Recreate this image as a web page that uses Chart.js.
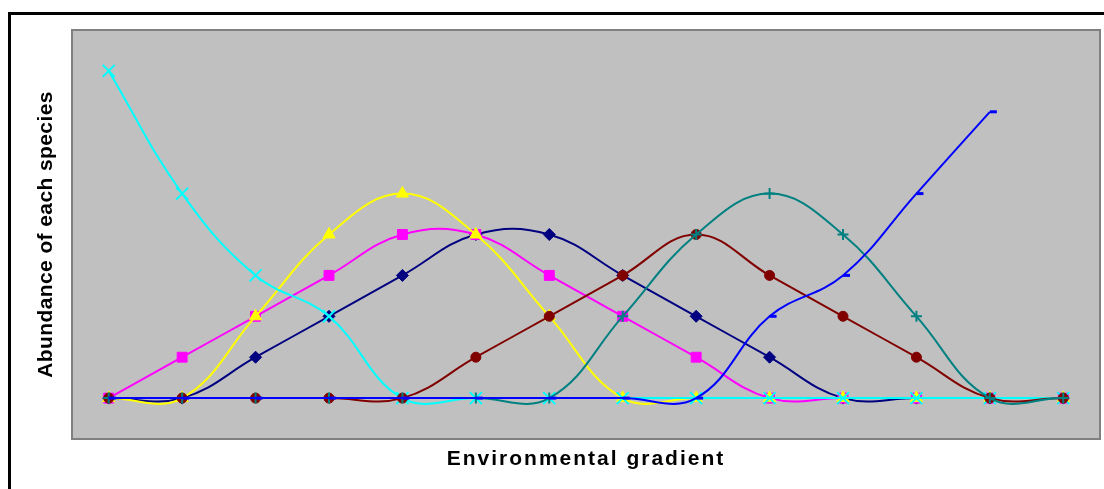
<!DOCTYPE html>
<html>
<head>
<meta charset="utf-8">
<script src="https://cdn.jsdelivr.net/npm/chart.js@4.4.1/dist/chart.umd.min.js"></script>
<style>
  html, body { margin: 0; padding: 0; background: #ffffff; }
  #wrap { position: relative; width: 1104px; height: 489px; }
</style>
</head>
<body>
<div id="wrap"><canvas id="c" width="1104" height="489"></canvas></div>
<script>
// Categories along the environmental gradient (tick labels are hidden in the reference)
const categories = ['1','2','3','4','5','6','7','8','9','10','11','12','13','14'];

// Species abundance series
const speciesNavy    = [0, 0, 1, 2, 3, 4, 4, 3, 2, 1, 0, 0, 0, 0];
const speciesMagenta = [0, 1, 2, 3, 4, 4, 3, 2, 1, 0, 0, 0, 0, 0];
const speciesYellow  = [0, 0, 2, 4, 5, 4, 2, 0, 0, 0, 0, 0, 0, 0];
const speciesCyan    = [8, 5, 3, 2, 0, 0, 0, 0, 0, 0, 0, 0, 0, 0];
const speciesMaroon  = [0, 0, 0, 0, 0, 1, 2, 3, 4, 3, 2, 1, 0, 0];
const speciesTeal    = [0, 0, 0, 0, 0, 0, 0, 2, 4, 5, 4, 2, 0, 0];
const speciesBlue    = [0, 0, 0, 0, 0, 0, 0, 0, 0, 2, 3, 5, 7, null];

const yMin = -1;
const yMax = 9;

const frame = {
  id: 'frame',
  beforeDraw(chart) {
    const { ctx, chartArea: a } = chart;
    ctx.save();
    // outer figure border (black, top and left visible)
    ctx.fillStyle = '#000000';
    ctx.fillRect(8, 12, 1200, 3);
    ctx.fillRect(8, 12, 3, 600);
    // plot area
    ctx.fillStyle = '#C0C0C0';
    ctx.fillRect(a.left, a.top, a.right - a.left, a.bottom - a.top);
    ctx.strokeStyle = '#808080';
    ctx.lineWidth = 2;
    ctx.strokeRect(a.left, a.top, a.right - a.left, a.bottom - a.top);
    ctx.restore();
  },
  afterLayout(chart) {
    const spacing = { x: '2px', y: '0.4px' };
    for (const id of ['x', 'y']) {
      const s = chart.scales[id];
      if (s && !s._lsWrapped) {
        const orig = s.drawTitle.bind(s);
        s.drawTitle = function () {
          const ctx = this.ctx;
          ctx.letterSpacing = spacing[id];
          orig();
          ctx.letterSpacing = '0px';
        };
        s._lsWrapped = true;
      }
    }
  }
};

function ds(data, color, style, radius, bw, order) {
  return {
    data: data,
    borderColor: color,
    backgroundColor: color,
    borderWidth: 2,
    tension: 0.4,
    pointStyle: style,
    pointRadius: radius,
    pointHoverRadius: radius,
    pointBackgroundColor: color,
    pointBorderColor: color,
    pointBorderWidth: bw,
    order: order,
    spanGaps: false
  };
}

new Chart(document.getElementById('c'), {
  type: 'line',
  data: {
    labels: categories,
    datasets: [
      ds(speciesNavy,    '#000080', 'rectRot',  6,   1, 7),
      ds(speciesMagenta, '#FF00FF', 'rect',     7,   1, 6),
      ds(speciesYellow,  '#FFFF00', 'triangle', 7,   1, 5),
      ds(speciesCyan,    '#00FFFF', 'crossRot', 8.5, 2, 4),
      ds(speciesMaroon,  '#800000', 'circle',   5,   1, 3),
      ds(speciesTeal,    '#008080', 'cross',    5.5, 2, 2),
      ds(speciesBlue,    '#0000FF', 'dash',     7,   3, 1)
    ]
  },
  options: {
    responsive: false,
    animation: false,
    devicePixelRatio: 1,
    layout: { autoPadding: false, padding: { top: 30, right: 4, left: 0, bottom: 0 } },
    plugins: { legend: { display: false }, tooltip: { enabled: false } },
    scales: {
      x: {
        type: 'category',
        offset: true,
        grid: { display: false },
        border: { display: false },
        ticks: { display: false },
        title: {
          display: true,
          text: 'Environmental gradient',
          color: '#000000',
          font: { family: '"Liberation Sans", Arial, sans-serif', size: 21, weight: 'bold' },
          padding: { top: 0, bottom: 17 }
        },
        afterFit(scale) { scale.height = 50; }
      },
      y: {
        min: yMin,
        max: yMax,
        grid: { display: false },
        border: { display: false },
        ticks: { display: false },
        title: {
          display: true,
          text: 'Abundance of each species',
          color: '#000000',
          font: { family: '"Liberation Sans", Arial, sans-serif', size: 21, weight: 'bold' },
          padding: { top: 34, bottom: 0 }
        },
        afterFit(scale) { scale.width = 72; }
      }
    }
  },
  plugins: [frame]
});
</script>
</body>
</html>
